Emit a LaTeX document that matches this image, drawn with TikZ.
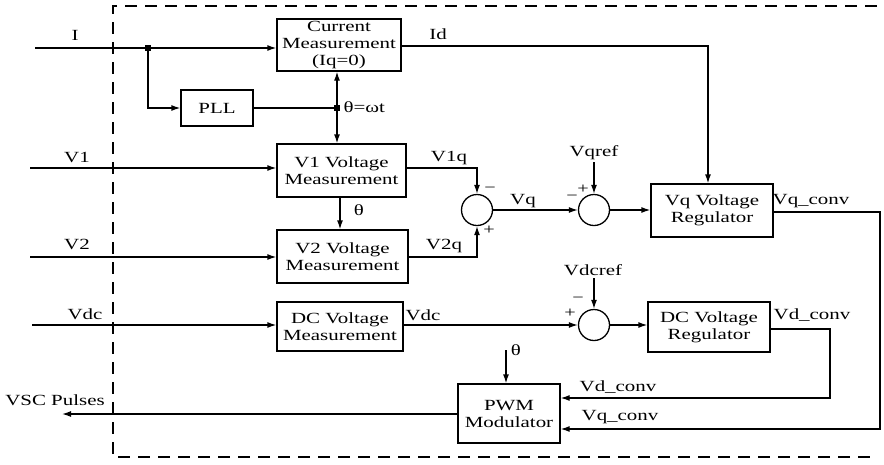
\documentclass[tikz,border=0pt]{standalone}
\usepackage{fontspec}
\setmainfont{Liberation Serif}[FakeStretch=1.35]
\usetikzlibrary{arrows.meta}
\begin{document}
\begin{tikzpicture}[x=1pt,y=-1pt, line width=1.3pt,
  blk/.style={draw, rectangle, inner sep=0pt, align=center, font=\fontsize{15.5}{17}\selectfont},
  sumc/.style={draw, circle, minimum size=31pt, inner sep=0pt},
  lbl/.style={inner sep=0pt, font=\fontsize{15.5}{17}\selectfont},
  sgn/.style={inner sep=0pt, font=\fontsize{15}{15}\selectfont},
  arr/.style={-{Latex[length=9pt,width=6pt]}},
  jdot/.style={fill, rectangle, minimum size=6pt, inner sep=0pt},
  frame/.style={dash pattern=on 12pt off 8pt}
]
\useasboundingbox (0,0) rectangle (884,464);
% frame
\draw[frame] (877,6) -- (113,6) -- (113,457) -- (877,457);
% blocks
\node[blk, minimum width=124pt, minimum height=52pt] (cur) at (339,45) {Current\\Measurement\\(Iq=0)};
\node[blk, minimum width=72pt, minimum height=36pt] (pll) at (217,108) {PLL};
\node[blk, minimum width=129pt, minimum height=53pt] (v1m) at (341.5,170.5) {V1 Voltage\\Measurement};
\node[blk, minimum width=131pt, minimum height=53pt] (v2m) at (342.5,256.5) {V2 Voltage\\Measurement};
\node[blk, minimum width=126pt, minimum height=49pt] (dcm) at (340,326.5) {DC Voltage\\Measurement};
\node[blk, minimum width=122pt, minimum height=53pt] (vqr) at (712,210.5) {Vq Voltage\\Regulator};
\node[blk, minimum width=122pt, minimum height=50pt] (dcr) at (709,327) {DC Voltage\\Regulator};
\node[blk, minimum width=102pt, minimum height=59pt] (pwm) at (509,413.5) {PWM\\Modulator};
\node[sumc] (s1) at (477,210) {};
\node[sumc] (s2) at (594,210) {};
\node[sumc] (s3) at (594,325) {};
% coordinates
\coordinate (inI) at (35,48);
\coordinate (jI) at (148,48);
\coordinate (jT) at (337,108);
\coordinate (idc) at (708,46);
\coordinate (inV1) at (30,168);
\coordinate (inV2) at (30,257);
\coordinate (inVdc) at (32,325);
\coordinate (th1) at (340,197);
\coordinate (c1) at (477,168);
\coordinate (c2) at (477,257);
\coordinate (r1) at (594,162);
\coordinate (r2) at (594,278);
\coordinate (d1) at (830,329);
\coordinate (d2) at (830,398);
\coordinate (q1) at (880,212);
\coordinate (q2) at (880,429);
\coordinate (th2) at (506,350);
\coordinate (out) at (62,414);
% connectors
\draw[arr] (inI) -- (cur.west |- inI);
\draw[arr] (jI) |- (pll.west);
\node[jdot] (jIdot) at (jI) {};
\draw (pll.east) -- (jT);
\draw[arr] (jT) -- (cur.south -| jT);
\draw[arr] (jT) -- (v1m.north -| jT);
\node[jdot] (jTdot) at (jT) {};
\draw[arr] (cur.east |- idc) -- (idc) -- (vqr.north -| idc);
\draw[arr] (inV1) -- (v1m.west |- inV1);
\draw[arr] (inV2) -- (v2m.west |- inV2);
\draw[arr] (inVdc) -- (dcm.west |- inVdc);
\draw[arr] (v1m.south -| th1) -- (v2m.north -| th1);
\draw[arr] (v1m.east |- c1) -- (c1) -- (s1.north);
\draw[arr] (v2m.east |- c2) -- (c2) -- (s1.south);
\draw[arr] (s1.east) -- (s2.west);
\draw[arr] (r1) -- (s2.north);
\draw[arr] (s2.east) -- (vqr.west |- s2.east);
\draw[arr] (dcm.east |- s3) -- (s3.west);
\draw[arr] (r2) -- (s3.north);
\draw[arr] (s3.east) -- (dcr.west |- s3.east);
\draw[arr] (dcr.east |- d1) -- (d1) -- (d2) -- (pwm.east |- d2);
\draw[arr] (vqr.east |- q1) -- (q1) -- (q2) -- (pwm.east |- q2);
\draw[arr] (th2) -- (pwm.north -| th2);
\draw[arr] (pwm.west |- out) -- (out);
% labels
\node[lbl] (lI) at (75,35) {I};
\node[lbl] (lId) at (438,34) {Id};
\node[lbl, anchor=west] (lth) at (343,107) {θ=ωt};
\node[lbl] (lV1) at (77,157) {V1};
\node[lbl] (lV2) at (77,244) {V2};
\node[lbl] (lVdc) at (85,314) {Vdc};
\node[lbl] (lth1) at (359,210) {θ};
\node[lbl] (lV1q) at (449,158) {V1q};
\node[lbl] (lV2q) at (444,246) {V2q};
\node[lbl] (lVq) at (523,201) {Vq};
\node[lbl] (lVqref) at (594,153) {Vqref};
\node[lbl] (lVqc) at (811,201) {Vq\_conv};
\node[lbl] (lVdcref) at (593,270) {Vdcref};
\node[lbl] (lVdco) at (423,315) {Vdc};
\node[lbl] (lVdc2) at (812,315) {Vd\_conv};
\node[lbl] (lth2) at (516,350) {θ};
\node[lbl] (lVd3) at (618,387) {Vd\_conv};
\node[lbl] (lVq3) at (620,417) {Vq\_conv};
\node[lbl] (lVSC) at (55,400) {VSC Pulses};
% signs
\node[sgn] (sg1) at (490,190) {−};
\node[sgn] (sg2) at (489,230) {+};
\node[sgn] (sg3) at (583,189) {+};
\node[sgn] (sg4) at (572,198) {−};
\node[sgn] (sg5) at (578,300) {−};
\node[sgn] (sg6) at (570,313) {+};
\end{tikzpicture}
\end{document}
